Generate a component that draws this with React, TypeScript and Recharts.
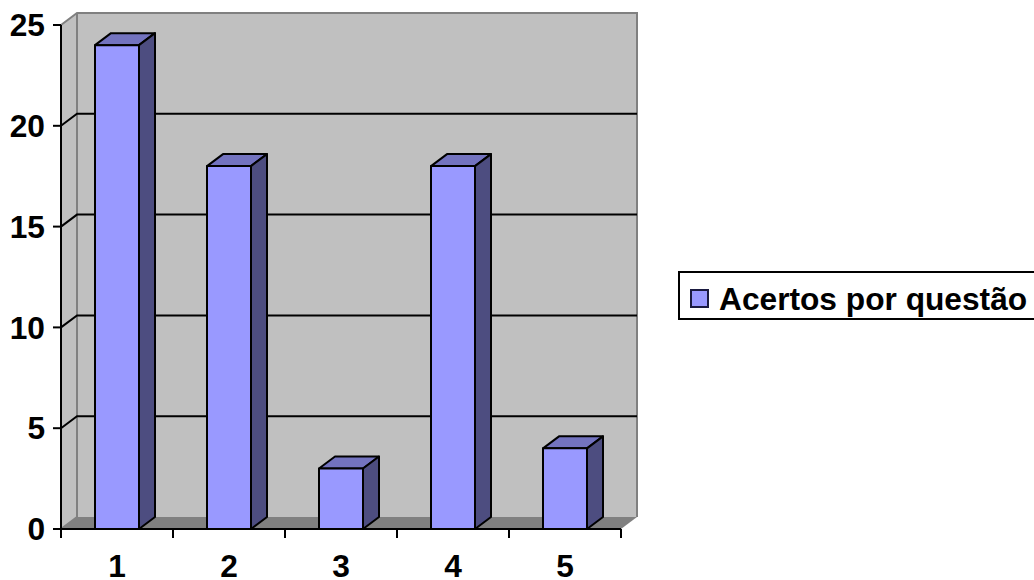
import {Bar, BarChart, CartesianGrid, Legend, XAxis, YAxis, usePlotArea} from "recharts";

const questoes = ["1", "2", "3", "4", "5"];
const acertos = [24, 18, 3, 18, 4];
const yTicks = [0, 5, 10, 15, 20, 25];
const serieName = "Acertos por questão";

const data = questoes.map((questao, i) => ({questao, acertos: acertos[i]}));

// offset of the back wall from the front plane
const DEPTH_X = 16;
const DEPTH_Y = 12;
const FONT = "'Liberation Sans', Arial, sans-serif";
const TICK_FONT = {fontFamily: FONT, fontWeight: "bold", fontSize: 31.7, fill: "#000"};

function Walls() {
  const area = usePlotArea();
  if (!area) return null;
  const {x, y, width, height} = area;
  const right = x + width;
  const bottom = y + height;
  const backX = x + DEPTH_X;
  const backTop = y - DEPTH_Y;
  const backBottom = bottom - DEPTH_Y;
  return (
    <g>
      <polygon
        points={`${x},${y} ${backX},${backTop} ${right + DEPTH_X},${backTop} ${right + DEPTH_X},${backBottom} ${backX},${backBottom} ${x},${bottom}`}
        fill="#c0c0c0"
      />
      <polygon
        points={`${x},${bottom} ${backX},${backBottom} ${right + DEPTH_X},${backBottom} ${right},${bottom}`}
        fill="#808080"
      />
      <polyline
        points={`${x},${y} ${backX},${backTop} ${right + DEPTH_X},${backTop} ${right + DEPTH_X},${backBottom}`}
        fill="none"
        stroke="#808080"
        strokeWidth={2}
      />
      <polyline
        points={`${backX},${backTop} ${backX},${backBottom} ${x},${bottom}`}
        fill="none"
        stroke="#808080"
        strokeWidth={2}
      />
    </g>
  );
}

// grid lines run along the side wall and then across the back wall
function GridLine({x1, x2, y1, index}: any) {
  if (index === 0 || index === yTicks.length - 1) return null;
  return (
    <polyline
      points={`${x1},${y1} ${x1 + DEPTH_X},${y1 - DEPTH_Y} ${x2 + DEPTH_X},${y1 - DEPTH_Y}`}
      fill="none"
      stroke="#000"
      strokeWidth={2}
    />
  );
}

// category ticks sit on the band edges, the label stays centred in the band
function CategoryTick({x, y, width, visibleTicksCount, index, payload}: any) {
  const band = width / visibleTicksCount;
  const isLast = index === visibleTicksCount - 1;
  return (
    <g>
      <line x1={x - band / 2} x2={x - band / 2} y1={y} y2={y + 9} stroke="#000" strokeWidth={2}/>
      {isLast && <line x1={x + band / 2} x2={x + band / 2} y1={y} y2={y + 9} stroke="#000" strokeWidth={2}/>}
      <text x={x} y={y + 48} textAnchor="middle" {...TICK_FONT}>{payload.value}</text>
    </g>
  );
}

function Bar3D({x, y, width, height}: any) {
  const right = x + width;
  const bottom = y + height;
  const common = {stroke: "#000", strokeWidth: 2, strokeLinejoin: "round" as const};
  return (
    <g>
      <polygon
        points={`${x},${y} ${x + DEPTH_X},${y - DEPTH_Y} ${right + DEPTH_X},${y - DEPTH_Y} ${right},${y}`}
        fill="#7373bf"
        {...common}
      />
      <polygon
        points={`${right},${y} ${right + DEPTH_X},${y - DEPTH_Y} ${right + DEPTH_X},${bottom - DEPTH_Y} ${right},${bottom}`}
        fill="#4d4d80"
        {...common}
      />
      <rect x={x} y={y} width={width} height={height} fill="#9999ff" {...common}/>
    </g>
  );
}

function LegendBox({payload}: any) {
  const entry = payload?.[0];
  if (!entry) return null;
  return (
    <div
      style={{
        marginLeft: 57,
        width: 370,
        height: 49,
        boxSizing: "border-box",
        border: "2px solid #000",
        background: "#fff",
        display: "flex",
        alignItems: "center",
        paddingLeft: 10,
        paddingTop: 8,
        fontFamily: FONT,
        fontWeight: "bold",
        fontSize: 31.7,
        color: "#000",
        whiteSpace: "nowrap",
      }}
    >
      <span
        style={{
          display: "inline-block",
          width: 19,
          height: 19,
          boxSizing: "border-box",
          border: "2px solid #1a1a40",
          background: entry.color,
          marginRight: 10,
          marginTop: -3,
        }}
      />
      {entry.value}
    </div>
  );
}

export default function App() {
  return (
    <div style={{position: "absolute", left: 0, top: 0, width: 1034, height: 580, overflow: "hidden", background: "#fff"}}>
      <BarChart width={1034} height={580} data={data} margin={{top: 25, right: 0, bottom: 0, left: 0}} barSize={44}>
        <Walls/>
        <CartesianGrid zIndex={1} vertical={false} horizontal={(props: any) => <GridLine key={props.index} {...props}/>}/>
        <XAxis
          dataKey="questao"
          height={51}
          axisLine={{stroke: "#000", strokeWidth: 2}}
          tickLine={false}
          tickSize={0}
          tickMargin={0}
          tick={<CategoryTick/>}
          interval={0}
        />
        <YAxis
          domain={[0, 25]}
          ticks={yTicks}
          width={61}
          tickSize={8}
          tickMargin={8}
          tick={TICK_FONT}
          axisLine={{stroke: "#000", strokeWidth: 2}}
          tickLine={{stroke: "#000", strokeWidth: 2}}
          interval={0}
        />
        <Legend
          layout="vertical"
          align="right"
          verticalAlign="top"
          width={413}
          content={<LegendBox/>}
          wrapperStyle={{top: 271, overflow: "hidden"}}
        />
        <Bar dataKey="acertos" name={serieName} fill="#9999ff" shape={<Bar3D/>} isAnimationActive={false}/>
      </BarChart>
    </div>
  );
}
